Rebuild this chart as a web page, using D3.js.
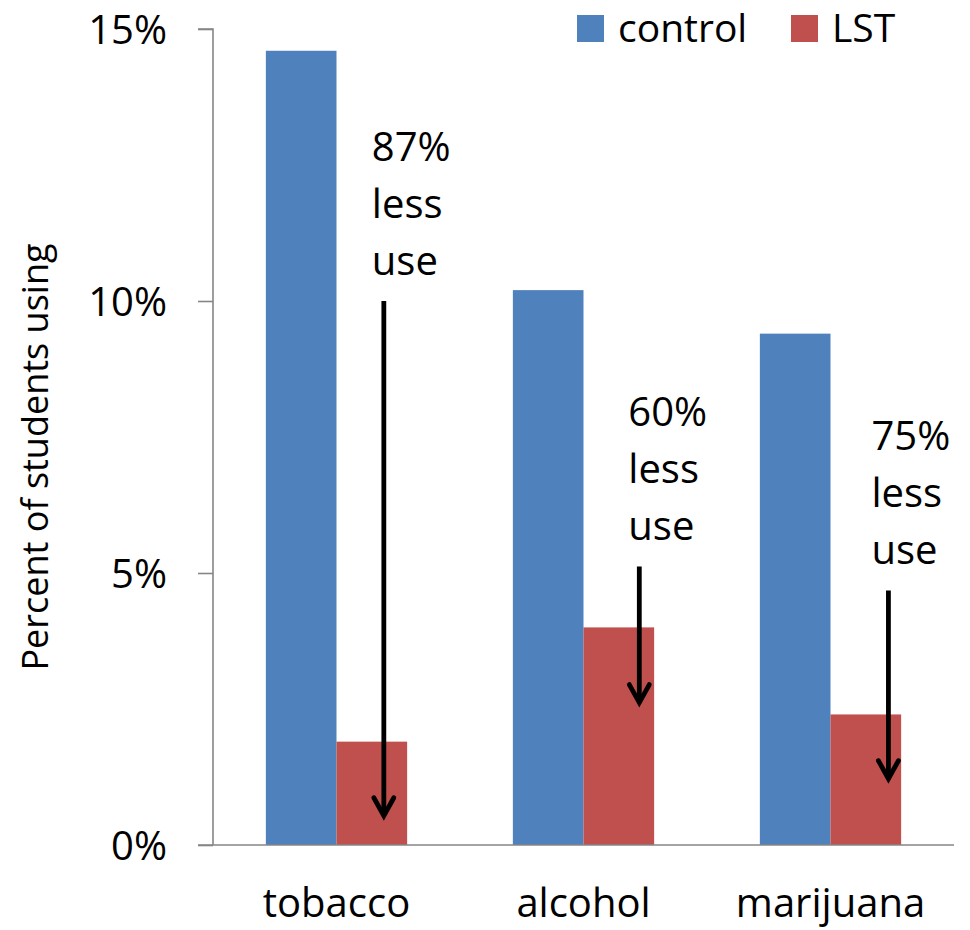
<!DOCTYPE html>
<html>
<head>
<meta charset="utf-8">
<script src="https://cdn.jsdelivr.net/npm/d3@7"></script>
<style>
  html, body { margin: 0; padding: 0; background: #fff; }
  svg { display: block; font-family: "Open Sans", "Noto Sans", sans-serif; }
</style>
</head>
<body>
<svg id="chart" width="970" height="930"></svg>
<script>
// Substance use among students: control group vs. Life Skills Training (LST)
const categories = ["tobacco", "alcohol", "marijuana"];
const seriesNames = ["control", "LST"];
const controlValues = [14.6, 10.2, 9.4];
const lstValues = [1.9, 4.0, 2.4];
const reductionLabels = ["87%", "60%", "75%"];
const yTicks = [0, 5, 10, 15];
const yTickLabels = ["0%", "5%", "10%", "15%"];

// Arrow annotations, expressed in percent on the value axis
const arrowFrom = [10.0, 5.12, 4.68];
const arrowTo = [0.52, 2.6, 1.2];

const colors = { control: "#4F81BD", LST: "#C0504D" };
const axisColor = "#868686";

const svg = d3.select("#chart");
const margin = { left: 213, right: 16, top: 29, bottom: 85 };
const W = 970, H = 930;
const plotLeft = margin.left, plotRight = W - margin.right;
const plotTop = margin.top, plotBottom = H - margin.bottom;

const y = d3.scaleLinear().domain([0, 15]).range([plotBottom, plotTop]);
const x0 = d3.scaleBand().domain(categories).range([plotLeft, plotRight])
  .paddingInner(0.428).paddingOuter(0.214);
const x1 = d3.scaleBand().domain(seriesNames).range([0, x0.bandwidth()]);

const rows = categories.map((c, i) => ({
  category: c,
  values: [
    { series: "control", value: controlValues[i] },
    { series: "LST", value: lstValues[i] }
  ]
}));

// Bars
const groups = svg.append("g").selectAll("g").data(rows).join("g")
  .attr("transform", d => `translate(${x0(d.category)},0)`);
groups.selectAll("rect").data(d => d.values).join("rect")
  .attr("x", d => x1(d.series))
  .attr("y", d => y(d.value))
  .attr("width", x1.bandwidth())
  .attr("height", d => y(0) - y(d.value))
  .attr("fill", d => colors[d.series]);

// Y axis
const yAxis = d3.axisLeft(y).tickValues(yTicks)
  .tickFormat((d, i) => yTickLabels[i]).tickSize(15).tickPadding(31);
const gy = svg.append("g").attr("transform", `translate(${plotLeft},0)`).call(yAxis);
gy.select(".domain").attr("stroke", axisColor).attr("stroke-width", 1.6)
  .attr("d", `M-15,${y(15)}H0V${y(0)}`);
gy.selectAll(".tick line").attr("stroke", axisColor).attr("stroke-width", 1.6);
gy.selectAll(".tick text").attr("fill", "#000")
  .style("font-family", "'Open Sans', sans-serif")
  .style("font-size", "40px").attr("dy", "0.36em");

// X axis baseline and category labels
const xAxis = d3.axisBottom(x0).tickSize(0).tickPadding(50);
const gx = svg.append("g").attr("transform", `translate(0,${plotBottom})`).call(xAxis);
gx.select(".domain").attr("stroke", axisColor).attr("stroke-width", 1.6)
  .attr("d", `M${plotLeft - 15},0H${plotRight}`);
gx.selectAll(".tick text").attr("fill", "#000")
  .style("font-family", "'Open Sans', sans-serif")
  .style("font-size", "40px").attr("dy", "0.55em");

// Y axis title
svg.append("text")
  .attr("transform", `translate(48,${(plotTop + plotBottom) / 2 + 20}) rotate(-90)`)
  .attr("text-anchor", "middle")
  .style("font-size", "36px")
  .text("Percent of students using");

// Legend
const legendItems = [
  { name: "control", sx: 577, tx: 618 },
  { name: "LST", sx: 791, tx: 832 }
];
const legend = svg.append("g");
legend.selectAll("rect").data(legendItems).join("rect")
  .attr("x", d => d.sx).attr("y", 15).attr("width", 27).attr("height", 27)
  .attr("fill", d => colors[d.name]);
legend.selectAll("text").data(legendItems).join("text")
  .attr("x", d => d.tx).attr("y", 42)
  .style("font-size", "39px")
  .text(d => d.name);

// Reduction annotations: label text above a downward arrow on each LST bar
const arrowOffset = [0.67, 0.79, 0.82];   // position within LST bar
const textShift = [-12, -11, -17];
const notes = categories.map((c, i) => {
  const ax = x0(c) + x1("LST") + x1.bandwidth() * arrowOffset[i];
  return { i, ax, top: y(arrowFrom[i]), tip: y(arrowTo[i]), tx: ax + textShift[i] };
});

const ann = svg.append("g");
ann.selectAll("line.shaft").data(notes).join("line")
  .attr("class", "shaft")
  .attr("x1", d => d.ax).attr("x2", d => d.ax)
  .attr("y1", d => d.top).attr("y2", d => d.tip - 2)
  .attr("stroke", "#000").attr("stroke-width", 4.8);
ann.selectAll("path.head").data(notes).join("path")
  .attr("class", "head")
  .attr("d", d => `M${d.ax - 10},${d.tip - 19}L${d.ax},${d.tip - 1}L${d.ax + 10},${d.tip - 19}`)
  .attr("fill", "none").attr("stroke", "#000").attr("stroke-width", 4.8)
  .attr("stroke-linecap", "round").attr("stroke-linejoin", "miter");

const noteText = ann.selectAll("text").data(notes).join("text")
  .attr("x", d => d.tx).attr("y", d => d.top - 140)
  .style("font-size", "40px");
noteText.append("tspan").attr("x", d => d.tx).attr("dy", 0).text(d => reductionLabels[d.i]);
noteText.append("tspan").attr("x", d => d.tx).attr("dy", 57).text("less");
noteText.append("tspan").attr("x", d => d.tx).attr("dy", 57).text("use");
</script>
</body>
</html>
